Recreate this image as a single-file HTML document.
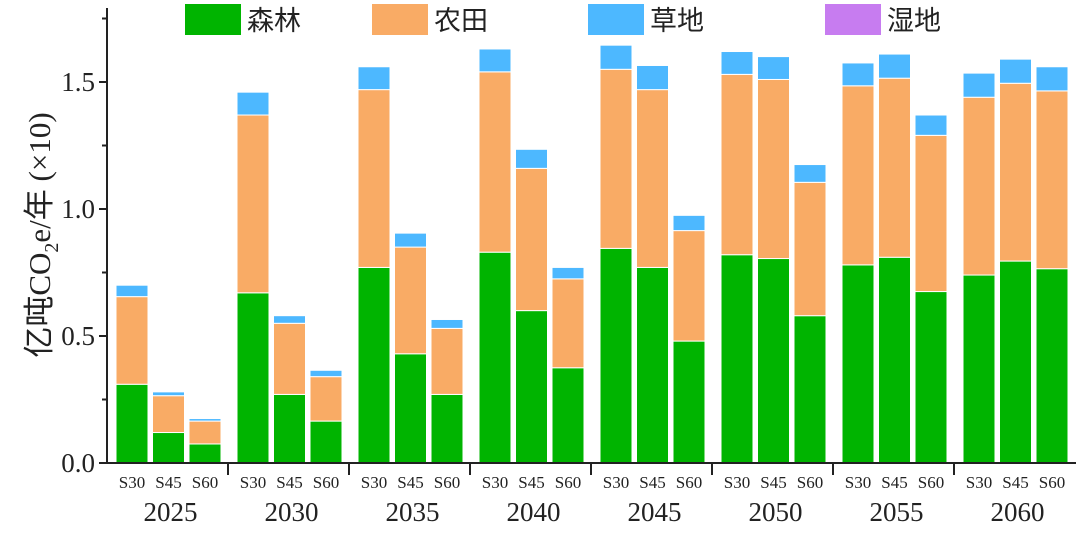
<!DOCTYPE html>
<html><head><meta charset="utf-8"><style>
body{margin:0;background:#fff;}
svg text{font-family:"Liberation Serif","Noto Serif CJK SC",serif;fill:#222;}
</style></head><body>
<svg id="c" width="1080" height="532">
<g id="legend"></g>
<g id="bars"></g>
<g id="axes"></g>
<text transform="translate(50,235) rotate(-90)" text-anchor="middle" font-size="31" style="font-family:'Liberation Serif','Noto Sans CJK SC',serif">亿吨CO<tspan font-size="20" dy="8">2</tspan><tspan dy="-8">e/年 (×10)</tspan></text>
</svg>
<script>
const years=["2025","2030","2035","2040","2045","2050","2055","2060"];
const scenarios=["S30","S45","S60"];
const forest=[0.31,0.12,0.075, 0.67,0.27,0.165, 0.77,0.43,0.27, 0.83,0.60,0.375, 0.845,0.77,0.48, 0.82,0.805,0.58, 0.78,0.81,0.675, 0.74,0.795,0.765];
const farmland=[0.345,0.145,0.09, 0.70,0.28,0.175, 0.70,0.42,0.26, 0.71,0.56,0.35, 0.705,0.70,0.435, 0.71,0.705,0.525, 0.705,0.705,0.615, 0.70,0.70,0.70];
const grassland=[0.045,0.015,0.01, 0.09,0.03,0.025, 0.09,0.055,0.035, 0.09,0.075,0.045, 0.095,0.095,0.06, 0.09,0.09,0.07, 0.09,0.095,0.08, 0.095,0.095,0.095];
const wetland=[0,0,0, 0,0,0, 0,0,0, 0,0,0, 0,0,0, 0,0,0, 0,0,0, 0,0,0];
const yTicks=["0.0","0.5","1.0","1.5"];
const seriesNames=["森林","农田","草地","湿地"];
const colors=["#00b400","#f9ab65","#4db8ff","#c77cf0"];
const NS="http://www.w3.org/2000/svg";
const X0=107,GW=121,Y0=463,SC=254;
const y=v=>Y0-v*SC;
const gx=(g,s)=>X0+GW*g+9+s*36.5;
function mk(tag,attrs,parent,txt){const e=document.createElementNS(NS,tag);for(const k in attrs)e.setAttribute(k,attrs[k]);if(txt!==undefined)e.textContent=txt;parent.appendChild(e);return e;}
const bars=document.getElementById('bars');
const series=[forest,farmland,grassland,wetland];
years.forEach((yr,g)=>{scenarios.forEach((sc,s)=>{
  const i=g*3+s;let base=0;
  series.forEach((arr,k)=>{const v=arr[i];if(v<=0)return;
    const r=mk('rect',{x:gx(g,s),y:y(base+v),width:32,height:v*SC,fill:colors[k],stroke:"#fff","stroke-width":1},bars);
    
    
    base+=v;});
});});
const ax=document.getElementById('axes');
mk('line',{x1:X0,y1:8,x2:X0,y2:Y0+1,stroke:"#222","stroke-width":2},ax);
mk('line',{x1:X0-1,y1:Y0,x2:1076,y2:Y0,stroke:"#222","stroke-width":2},ax);
for(let v=0;v<=1.75;v+=0.25){const major=Math.abs(v*2-Math.round(v*2))<1e-6;
  mk('line',{x1:X0-(major?8:5),y1:y(v),x2:X0,y2:y(v),stroke:"#222","stroke-width":2},ax);}
yTicks.forEach(t=>{const tx=mk('text',{x:X0-12,y:y(+t)+9,"text-anchor":"end","font-size":27},ax,t);
  
  });
years.forEach((yr,g)=>{
  if(g>0)mk('line',{x1:X0+GW*g,y1:Y0,x2:X0+GW*g,y2:Y0+12,stroke:"#222","stroke-width":2},ax);
  scenarios.forEach((sc,s)=>{const t=mk('text',{x:gx(g,s)+16,y:Y0+25,"text-anchor":"middle","font-size":17},ax,sc);
    
    });
  const t=mk('text',{x:X0+GW*g+GW/2+3,y:Y0+58,"text-anchor":"middle","font-size":27},ax,yr);
  
  
});
const lg=document.getElementById('legend');
const lx=[185,372,588,825];
seriesNames.forEach((n,k)=>{
  const r=mk('rect',{x:lx[k],y:4,width:56,height:31,fill:colors[k]},lg);
  
  
  const t=mk('text',{x:lx[k]+62,y:30,"font-size":27,style:"font-family:'Noto Sans CJK SC',sans-serif"},lg,n);
  
  
});
</script>
</body></html>
